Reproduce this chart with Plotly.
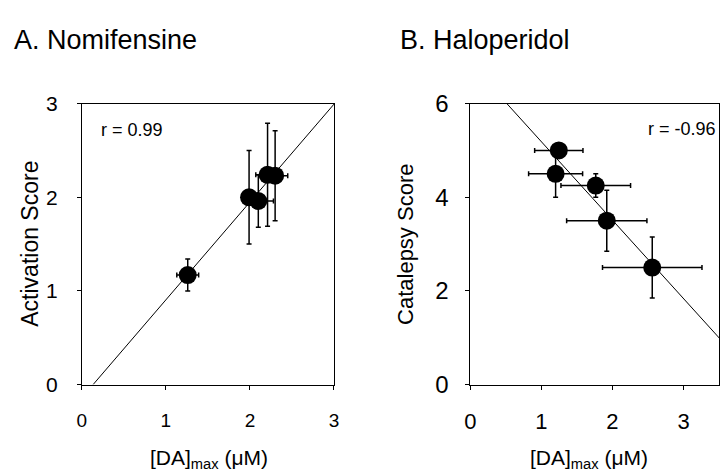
import numpy as np
import plotly.graph_objects as go

# ---- Data ----
# Panel A: Nomifensine
a_x = [1.26, 1.99, 2.10, 2.21, 2.30]
a_y = [1.17, 2.00, 1.96, 2.24, 2.23]
a_xerr = [0.13, 0.0, 0.18, 0.14, 0.15]
a_yerr = [0.17, 0.50, 0.28, 0.55, 0.48]
a_r = "r = 0.99"

# Panel B: Haloperidol
b_x = [1.245, 1.20, 1.765, 1.92, 2.56]
b_y = [5.00, 4.50, 4.25, 3.50, 2.50]
b_xerr = [0.34, 0.38, 0.49, 0.565, 0.70]
b_yerr = [0.0, 0.50, 0.25, 0.65, 0.65]
b_r = "r = -0.96"

a_xticks = [0, 1, 2, 3]
a_yticks = [0, 1, 2, 3]
b_xticks = [0, 1, 2, 3]
b_yticks = [0, 2, 4, 6]

title_a = "A. Nomifensine"
title_b = "B. Haloperidol"
ylab_a = "Activation Score"
ylab_b = "Catalepsy Score"
xlab = "[DA]<sub>max</sub> (μM)"

FONT = "Liberation Sans, Arial, sans-serif"
W, H = 726, 474


def px(v):
    return v / W


def py(v):
    return 1 - v / H


fig = go.Figure()

# regression lines from data
sa, ia = np.polyfit(a_x, a_y, 1)
xa_line = np.array([-ia / sa, 3.2])
fig.add_trace(go.Scatter(x=xa_line, y=sa * xa_line + ia, mode="lines",
                         line=dict(color="black", width=1), xaxis="x", yaxis="y",
                         showlegend=False, hoverinfo="skip"))
sb, ib = np.polyfit(b_x, b_y, 1)
xb_line = np.array([0.0, 3.6])
fig.add_trace(go.Scatter(x=xb_line, y=sb * xb_line + ib, mode="lines",
                         line=dict(color="black", width=1), xaxis="x2", yaxis="y2",
                         showlegend=False, hoverinfo="skip"))

err = dict(type="data", color="black", thickness=1.5, width=2.5, visible=True)
fig.add_trace(go.Scatter(x=a_x, y=a_y, mode="markers", xaxis="x", yaxis="y",
                         marker=dict(color="black", size=18),
                         error_x=dict(array=a_xerr, **err),
                         error_y=dict(array=a_yerr, **err),
                         showlegend=False))
fig.add_trace(go.Scatter(x=b_x, y=b_y, mode="markers", xaxis="x2", yaxis="y2",
                         marker=dict(color="black", size=18),
                         error_x=dict(array=b_xerr, **err),
                         error_y=dict(array=b_yerr, **err),
                         showlegend=False))

ax_common = dict(showline=True, linecolor="black", linewidth=1, mirror=True,
                 ticks="outside", ticklen=4, tickcolor="black", tickwidth=1,
                 showgrid=False, zeroline=False, fixedrange=True)

ydom = [py(393), py(95)]
fig.update_layout(
    width=W, height=H,
    margin=dict(l=0, r=0, t=0, b=0),
    paper_bgcolor="white", plot_bgcolor="white",
    font=dict(family=FONT, color="black"),
    xaxis=dict(domain=[px(77), px(333)], range=[0, 3], tickvals=a_xticks,
               tickfont=dict(size=19), ticklabelstandoff=15, anchor="y", **ax_common),
    yaxis=dict(domain=ydom, range=[0, 3], tickvals=a_yticks,
               tickfont=dict(size=21), ticklabelstandoff=15, anchor="x", **ax_common),
    xaxis2=dict(domain=[px(471.5), px(724)], range=[0, 3.5], tickvals=b_xticks,
                tickfont=dict(size=22), ticklabelstandoff=13, anchor="y2", **ax_common),
    yaxis2=dict(domain=ydom, range=[0, 6], tickvals=b_yticks,
                tickfont=dict(size=24), ticklabelstandoff=12, anchor="x2", **ax_common),
)

ann = [
    dict(text=title_a, x=px(6), y=py(28), xanchor="left", yanchor="middle",
         font=dict(size=27)),
    dict(text=title_b, x=px(398), y=py(28), xanchor="left", yanchor="middle",
         font=dict(size=27)),
    dict(text=ylab_a, x=px(24), y=py(244), textangle=-90, xanchor="center",
         yanchor="middle", font=dict(size=23)),
    dict(text=ylab_b, x=px(405), y=py(244), textangle=-90, xanchor="center",
         yanchor="middle", font=dict(size=22)),
    dict(text=xlab, x=px(206), y=py(472), xanchor="center", yanchor="middle",
         font=dict(size=21)),
    dict(text=xlab, x=px(592), y=py(472), xanchor="center", yanchor="middle",
         font=dict(size=21)),
]
for a in ann:
    a.update(xref="paper", yref="paper", showarrow=False)

ann.append(dict(text=a_r, x=0.2, y=2.72, xref="x", yref="y", xanchor="left",
                yanchor="middle", showarrow=False, font=dict(size=18)))
ann.append(dict(text=b_r, x=3.48, y=5.45, xref="x2", yref="y2", xanchor="right",
                yanchor="middle", showarrow=False, font=dict(size=18)))
fig.update_layout(annotations=ann)

fig.write_html("out.html")
